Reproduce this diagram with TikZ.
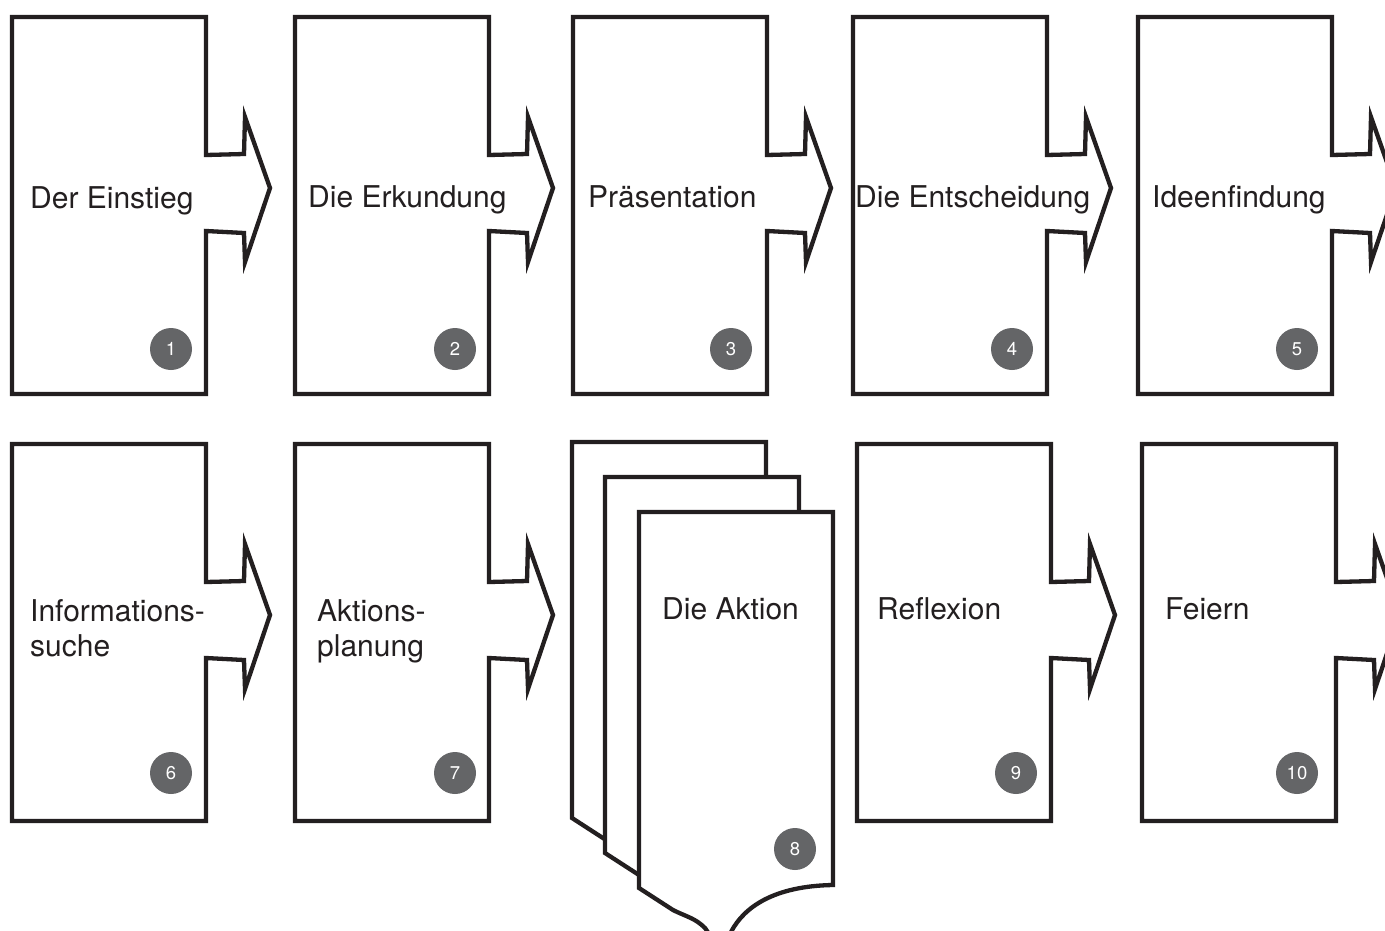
\documentclass[tikz,border=0pt]{standalone}
\usepackage{fontspec}
\setmainfont{TeX Gyre Heros}
\definecolor{ink}{HTML}{231F20}
\definecolor{badgegray}{HTML}{646567}

\begin{document}
\begin{tikzpicture}[x=1pt, y=-1pt,
  card/.style = {draw=ink, line width=4.3pt, fill=white},
  phase/.style = {anchor=base west, inner sep=0pt, text=ink, align=left,
    font=\fontsize{30}{35}\selectfont},
  badge/.style = {circle, fill=badgegray, minimum size=42pt, inner sep=0pt,
    text=white, font=\fontsize{18.5}{20}\selectfont}]
\clip (0,0) rectangle (1385,930);
% cards with arrow
\foreach \x/\y in {12/17, 295/17, 573/17, 853/17, 1138/17, 12/444, 295/444, 857/444, 1142/444}
  \draw[card, shift={(\x,\y)}] (0,0) -- (194,0) -- (194,138) -- (232,137) -- (233,100)
    -- (258,171) -- (233,245) -- (232,216) -- (194,214) -- (194,377) -- (0,377) -- cycle;
% stacked pages
\foreach \x/\y in {572/442, 605/477, 639/512}
  \draw[card, shift={(\x,\y)}] (0,0) -- (194,0) -- (194,373)
    .. controls (135,374) and (105,395) .. (92,420)
    .. controls (88,428) and (84,434) .. (80,434)
    .. controls (75,434) and (72,424) .. (66,416)
    .. controls (56,406) and (48,405) .. (34,398) -- (0,376) -- cycle;
\node[phase] (t1) at (30,208) {Der Einstieg};
\node[phase] (t2) at (308,207) {Die Erkundung};
\node[phase] (t3) at (588,207) {Präsentation};
\node[phase] (t4) at (855,207) {Die Entscheidung};
\node[phase] (t5) at (1152,207) {Ideenfindung};
\node[phase] (t6) at (30,656) {Informations-\\suche};
\node[phase] (t7) at (317,656) {Aktions-\\planung};
\node[phase] (t8) at (662,619) {Die Aktion};
\node[phase] (t9) at (877,619) {Reflexion};
\node[phase] (t10) at (1165,619) {Feiern};
\node[badge] (n1) at (171,349) {1};
\node[badge] (n2) at (455,349) {2};
\node[badge] (n3) at (731,349) {3};
\node[badge] (n4) at (1012,349) {4};
\node[badge] (n5) at (1297,349) {5};
\node[badge] (n6) at (171,773) {6};
\node[badge] (n7) at (455,773) {7};
\node[badge] (n8) at (795,849) {8};
\node[badge] (n9) at (1016,773) {9};
\node[badge] (n10) at (1297,773) {10};
\end{tikzpicture}
\end{document}
